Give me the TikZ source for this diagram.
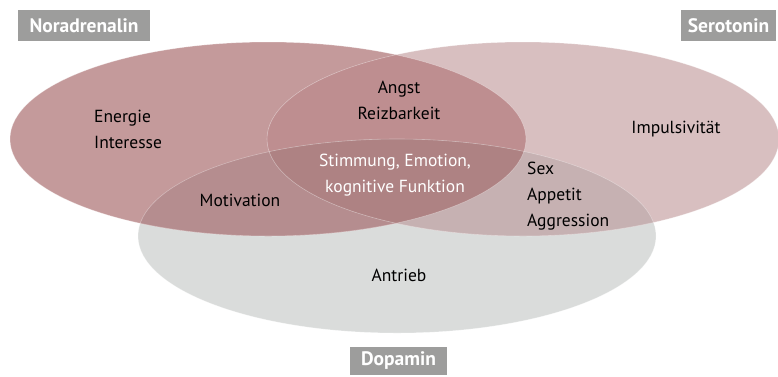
\documentclass[tikz,border=0pt]{standalone}
\usepackage{fontspec}
\setmainfont{PT Sans}
\usepackage{tikz}
\usetikzlibrary{
	calc,
	positioning,
}
\definecolor{noracol}{HTML}{C49A9B}
\definecolor{serocol}{HTML}{D8BFC0}
\definecolor{dopacol}{HTML}{DADCDB}
\definecolor{norasero}{HTML}{BE8E90}
\definecolor{noradopa}{HTML}{B58D8F}
\definecolor{serodopa}{HTML}{C6B1B2}
\definecolor{allcol}{HTML}{AE8283}
\definecolor{tagcol}{HTML}{9D9D9C}
\tikzset{tag/.style={
	fill=tagcol,
	text=white,
	font=\fontsize{19.5}{21}\selectfont\bfseries,
	inner xsep=5pt,
	inner ysep=4pt,
	minimum height=31pt,
	anchor=center,
}}
\tikzset{item/.style={
	font=\fontsize{17.5}{26}\selectfont,
	align=center,
	inner sep=0pt,
	text=black,
}}
\tikzset{rim/.style={
	draw=white,
	draw opacity=0.35,
	line width=0.6pt,
}}
\newcommand{\noraset}{(268,139) ellipse [x radius=258, y radius=97]}
\newcommand{\seroset}{(523,139) ellipse [x radius=256, y radius=97]}
\newcommand{\dopaset}{(397,236) ellipse [x radius=259, y radius=97]}

\begin{document}
\begin{tikzpicture}[x=1pt,y=-1pt]
\useasboundingbox (0,0) rectangle (778,376);

% sets
\fill[dopacol] \dopaset;
\fill[noracol] \noraset;
\fill[serocol] \seroset;

% overlaps
\begin{scope}
\clip \noraset;
\fill[norasero] \seroset;
\fill[noradopa] \dopaset;
\end{scope}
\begin{scope}
\clip \seroset;
\fill[serodopa] \dopaset;
\clip \noraset;
\fill[allcol] \dopaset;
\end{scope}

% rims
\draw[rim] \noraset;
\draw[rim] \seroset;
\draw[rim] \dopaset;

% tags
\node[tag, minimum width=132pt] (nora) at (84,25.5) {Noradrenalin};
\node[tag, minimum width=95pt] (sero) at (728.5,25.5) {Serotonin};
\node[tag, minimum width=97pt, minimum height=28pt] (dopa) at (398.5,361) {Dopamin};

% labels
\node[item, align=left, anchor=west] (energie) at (94,129) {Energie\\Interesse};
\node[item] (angst) at (399,100) {Angst\\Reizbarkeit};
\node[item] (impuls) at (676,129) {Impulsivität};
\node[item, text=white] (stimmung) at (395,175) {Stimmung, Emotion,\\kognitive Funktion};
\node[item] (motiv) at (240,200) {Motivation};
\node[item, align=left, anchor=west] (sex) at (527,196) {Sex\\Appetit\\Aggression};
\node[item] (antrieb) at (399,275) {Antrieb};

\end{tikzpicture}
\end{document}
